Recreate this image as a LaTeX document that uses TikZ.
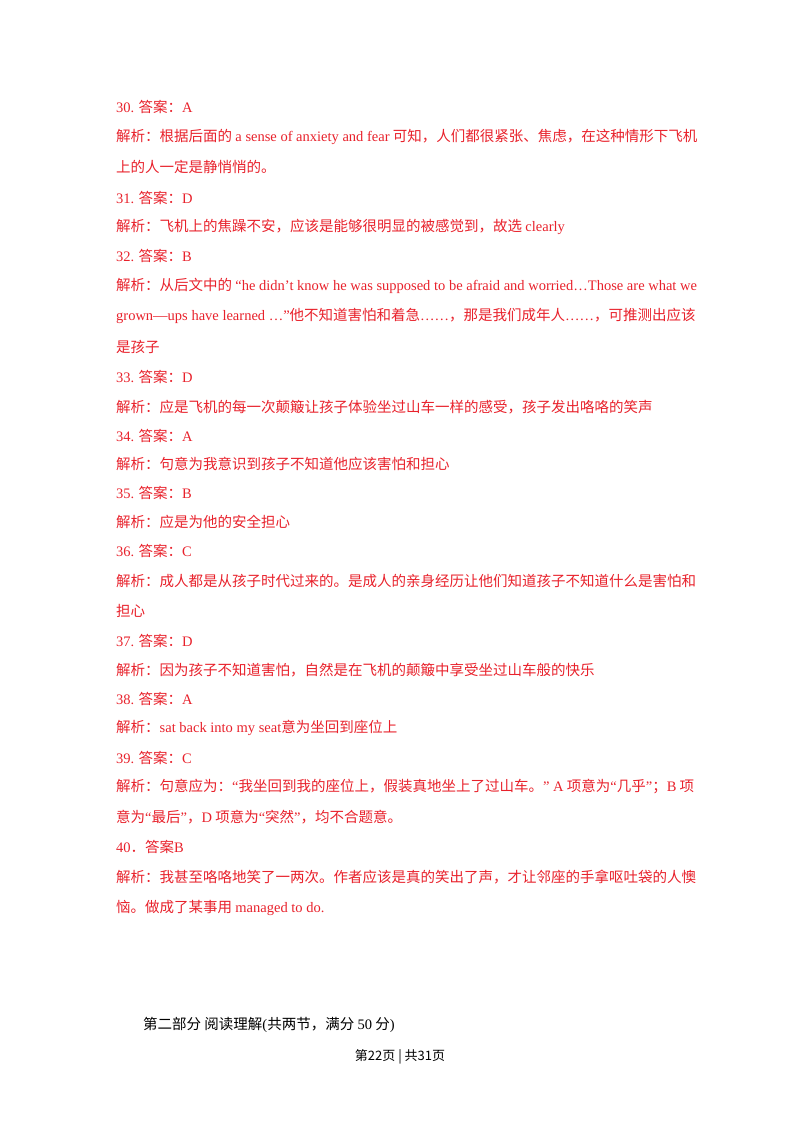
\documentclass[tikz,border=0pt]{standalone}
\usepackage{fontspec}
\setmainfont{Noto Sans CJK SC}
\newfontfamily\lat{Liberation Serif}
\newcommand{\e}[1]{{\lat #1}}
\definecolor{ans}{HTML}{E8212B}
\begin{document}
\begin{tikzpicture}[x=1pt,y=-1pt,
  ln/.style={anchor=west,inner sep=0pt,text=ans,font=\fontsize{14.5}{16}\selectfont},
  bk/.style={anchor=west,inner sep=0pt,font=\fontsize{14.5}{16}\selectfont}]
\useasboundingbox (0,0) rectangle (800,1132);
\node[ln] (l1) at (116,107) {\e{30.} 答案：\e{A}};
\node[ln] (l2) at (116,137) {解析：根据后面的 \e{a sense of anxiety and fear} 可知，人们都很紧张、焦虑，在这种情形下飞机};
\node[ln] (l3) at (116,167) {上的人一定是静悄悄的。};
\node[ln] (l4) at (116,198) {\e{31.} 答案：\e{D}};
\node[ln] (l5) at (116,227) {解析：飞机上的焦躁不安，应该是能够很明显的被感觉到，故选 \e{clearly}};
\node[ln] (l6) at (116,256) {\e{32.} 答案：\e{B}};
\node[ln] (l7) at (116,286) {解析：从后文中的 \e{“he didn’t know he was supposed to be afraid and worried…Those are what we}};
\node[ln] (l8) at (116,316) {\e{grown—ups have learned …”}他不知道害怕和着急\e{……}，那是我们成年人\e{……}，可推测出应该};
\node[ln] (l9) at (116,347) {是孩子};
\node[ln] (l10) at (116,377) {\e{33.} 答案：\e{D}};
\node[ln] (l11) at (116,407) {解析：应是飞机的每一次颠簸让孩子体验坐过山车一样的感受，孩子发出咯咯的笑声};
\node[ln] (l12) at (116,436) {\e{34.} 答案：\e{A}};
\node[ln] (l13) at (116,464) {解析：句意为我意识到孩子不知道他应该害怕和担心};
\node[ln] (l14) at (116,493) {\e{35.} 答案：\e{B}};
\node[ln] (l15) at (116,522) {解析：应是为他的安全担心};
\node[ln] (l16) at (116,551) {\e{36.} 答案：\e{C}};
\node[ln] (l17) at (116,581) {解析：成人都是从孩子时代过来的。是成人的亲身经历让他们知道孩子不知道什么是害怕和};
\node[ln] (l18) at (116,611) {担心};
\node[ln] (l19) at (116,641) {\e{37.} 答案：\e{D}};
\node[ln] (l20) at (116,670) {解析：因为孩子不知道害怕，自然是在飞机的颠簸中享受坐过山车般的快乐};
\node[ln] (l21) at (116,699) {\e{38.} 答案：\e{A}};
\node[ln] (l22) at (116,728) {解析：\e{sat back into my seat}意为坐回到座位上};
\node[ln] (l23) at (116,758) {\e{39.} 答案：\e{C}};
\node[ln] (l24) at (116,787) {解析：句意应为：\e{“}我坐回到我的座位上，假装真地坐上了过山车。\e{” A} 项意为\e{“}几乎\e{”}；\e{B} 项};
\node[ln] (l25) at (116,817) {意为\e{“}最后\e{”}，\e{D} 项意为\e{“}突然\e{”}，均不合题意。};
\node[ln] (l26) at (116,847) {\e{40}．答案\e{B}};
\node[ln] (l27) at (116,877) {解析：我甚至咯咯地笑了一两次。作者应该是真的笑出了声，才让邻座的手拿呕吐袋的人懊};
\node[ln] (l28) at (116,908) {恼。做成了某事用 \e{managed to do.}};
\node[bk] (h) at (143,1025) {第二部分\ 阅读理解\e{(}共两节，满分 \e{50} 分\e{)}};
\node[inner sep=0pt,font=\fontsize{13}{15}\selectfont] (f) at (400,1057) {第22页 | 共31页};
\end{tikzpicture}
\end{document}
